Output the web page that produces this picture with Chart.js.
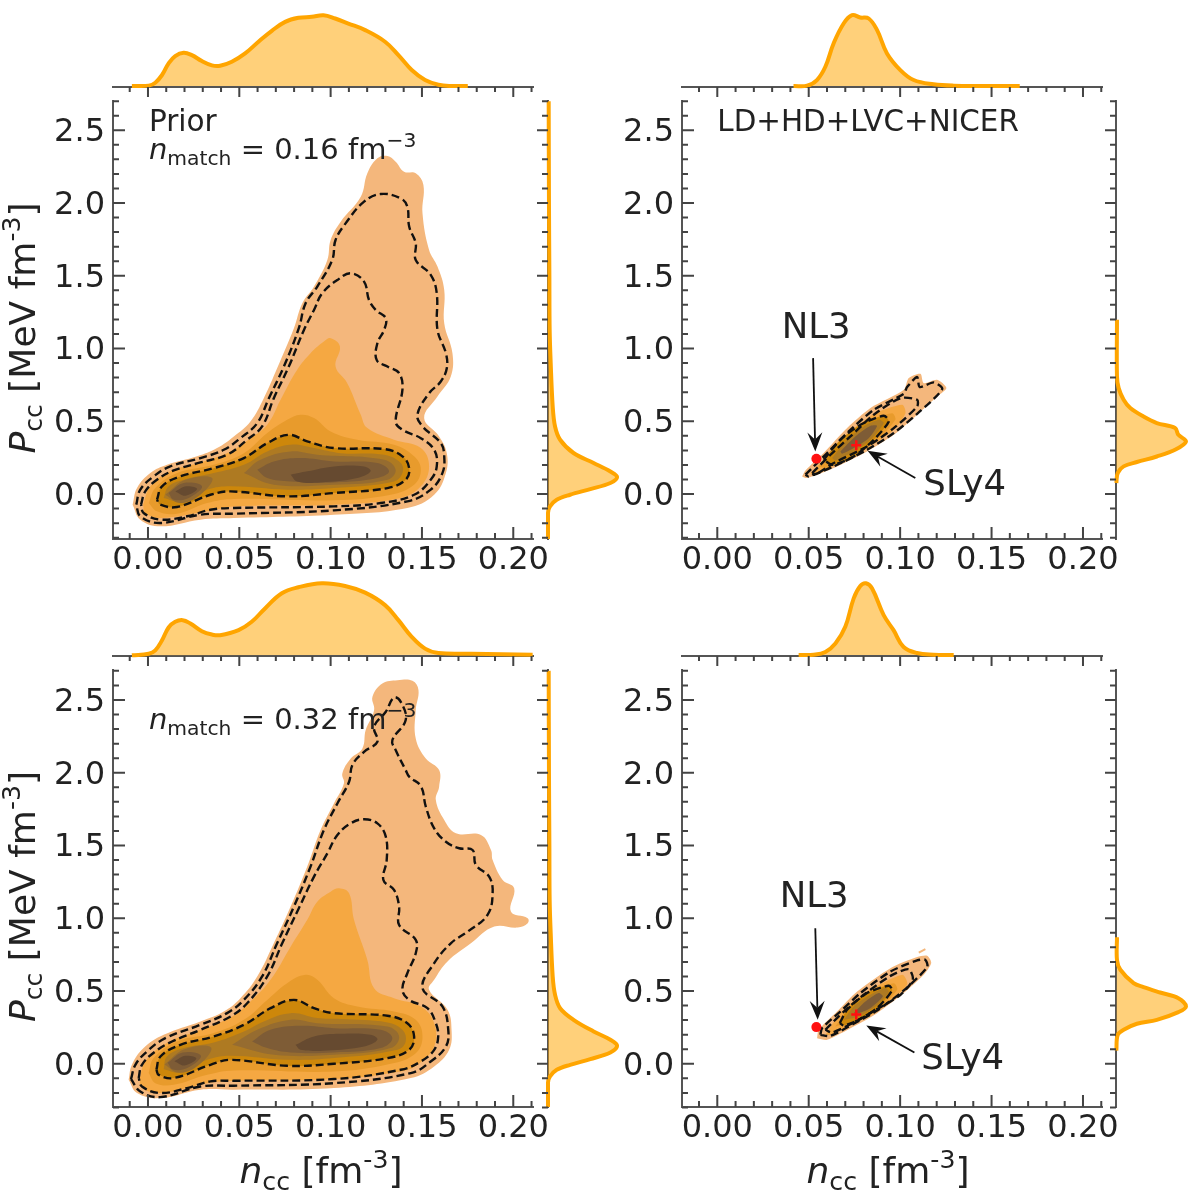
<!DOCTYPE html>
<html><head><meta charset="utf-8">
<style>
html,body{margin:0;padding:0;background:#fff}
#page{position:relative;width:1200px;height:1200px;overflow:hidden;background:#fff}
canvas{position:absolute;display:block}
</style>
<script src="https://cdn.jsdelivr.net/npm/chart.js@4"></script>
</head><body><div id="page"></div>
<script>
// ---------- tick values ----------
const xMajor=[0,0.05,0.10,0.15,0.20];
const xMinor=[-0.01,0.01,0.02,0.03,0.04,0.06,0.07,0.08,0.09,0.11,0.12,0.13,0.14,0.16,0.17,0.18,0.19,0.21];
const yMajor=[0,0.5,1.0,1.5,2.0,2.5];
const yMinor=[-0.3,-0.2,-0.1,0.1,0.2,0.3,0.4,0.6,0.7,0.8,0.9,1.1,1.2,1.3,1.4,1.6,1.7,1.8,1.9,2.1,2.2,2.3,2.4,2.6,2.7];
const levelColors=['#F4B77C','#F5A842','#E89B2C','#CD870A','#AE7A22','#966C30','#7E5C36','#664A30'];

// ---------- Prior, n_match = 0.16 : contours [n_cc, P_cc] ----------
const A_L0=[[-0.0084,-0.073],[-0.0060,0.041],[0.0013,0.144],[0.0104,0.201],[0.0269,0.259],[0.0378,0.316],[0.0470,0.396],[0.0561,0.499],[0.0634,0.659],[0.0707,0.865],[0.0799,1.140],[0.0845,1.311],[0.0909,1.426],[0.0982,1.609],[0.1000,1.746],[0.1055,1.872],[0.1165,2.043],[0.1201,2.204],[0.1256,2.307],[0.1311,2.323],[0.1356,2.284],[0.1402,2.215],[0.1466,2.204],[0.1508,2.124],[0.1503,1.929],[0.1539,1.677],[0.1585,1.563],[0.1622,1.403],[0.1622,1.174],[0.1667,0.968],[0.1658,0.808],[0.1585,0.670],[0.1512,0.522],[0.1594,0.396],[0.1636,0.281],[0.1631,0.144],[0.1567,-0.005],[0.1420,-0.096],[0.1018,-0.142],[0.0470,-0.165],[0.0287,-0.176],[0.0068,-0.222],[-0.0042,-0.176]];
const A_D1=[[-0.0064,-0.073],[-0.0042,0.030],[0.0031,0.121],[0.0122,0.190],[0.0287,0.247],[0.0415,0.304],[0.0506,0.384],[0.0598,0.487],[0.0662,0.659],[0.0744,0.876],[0.0826,1.140],[0.0863,1.311],[0.0927,1.426],[0.1009,1.609],[0.1027,1.746],[0.1082,1.860],[0.1183,2.009],[0.1274,2.062],[0.1384,2.032],[0.1420,1.975],[0.1430,1.838],[0.1466,1.723],[0.1466,1.609],[0.1548,1.506],[0.1581,1.380],[0.1585,1.128],[0.1631,0.968],[0.1636,0.865],[0.1603,0.773],[0.1539,0.693],[0.1475,0.545],[0.1503,0.465],[0.1603,0.350],[0.1622,0.259],[0.1612,0.144],[0.1548,0.030],[0.1420,-0.050],[0.1018,-0.112],[0.0470,-0.135],[0.0287,-0.142],[0.0068,-0.199],[-0.0042,-0.153]];
const A_D2=[[-0.0038,-0.073],[-0.0015,0.018],[0.0049,0.098],[0.0141,0.162],[0.0287,0.217],[0.0433,0.270],[0.0543,0.373],[0.0625,0.465],[0.0689,0.659],[0.0771,0.876],[0.0854,1.128],[0.0909,1.265],[0.0954,1.380],[0.1037,1.471],[0.1110,1.517],[0.1183,1.460],[0.1210,1.334],[0.1247,1.265],[0.1302,1.208],[0.1293,1.128],[0.1256,1.037],[0.1252,0.922],[0.1311,0.876],[0.1375,0.831],[0.1393,0.716],[0.1356,0.499],[0.1393,0.442],[0.1494,0.384],[0.1567,0.304],[0.1581,0.190],[0.1548,0.098],[0.1457,-0.005],[0.1274,-0.062],[0.1018,-0.085],[0.0470,-0.096],[0.0342,-0.108],[0.0214,-0.153],[0.0068,-0.176],[-0.0024,-0.130]];
const A_D3=[[0.0049,-0.039],[0.0077,0.053],[0.0177,0.121],[0.0360,0.178],[0.0525,0.247],[0.0653,0.350],[0.0771,0.407],[0.0872,0.362],[0.1018,0.316],[0.1293,0.309],[0.1393,0.259],[0.1430,0.178],[0.1411,0.098],[0.1311,0.041],[0.1018,0.007],[0.0762,-0.016],[0.0452,0.018],[0.0342,-0.005],[0.0159,-0.089],[0.0068,-0.073]];
const A_L1=[[-0.0027,-0.073],[0.0013,0.053],[0.0122,0.156],[0.0287,0.217],[0.0452,0.293],[0.0561,0.384],[0.0653,0.476],[0.0726,0.648],[0.0817,0.854],[0.0890,0.968],[0.0963,1.048],[0.1000,1.071],[0.1051,1.014],[0.1027,0.876],[0.1091,0.762],[0.1165,0.545],[0.1201,0.453],[0.1347,0.373],[0.1494,0.316],[0.1539,0.190],[0.1494,0.053],[0.1384,-0.027],[0.1018,-0.073],[0.0470,-0.085],[0.0324,-0.119],[0.0068,-0.165],[-0.0015,-0.130]];
const A_L2=[[0.0004,-0.062],[0.0040,0.041],[0.0159,0.144],[0.0360,0.201],[0.0525,0.281],[0.0653,0.419],[0.0762,0.510],[0.0835,0.545],[0.0909,0.522],[0.1000,0.430],[0.1146,0.373],[0.1347,0.339],[0.1457,0.259],[0.1494,0.167],[0.1457,0.064],[0.1329,-0.005],[0.1018,-0.043],[0.0470,-0.034],[0.0324,-0.062],[0.0159,-0.135],[0.0049,-0.119]];
const A_L4=[[0.0086,-0.027],[0.0113,0.053],[0.0196,0.098],[0.0360,0.144],[0.0525,0.201],[0.0653,0.293],[0.0781,0.339],[0.0909,0.316],[0.1055,0.281],[0.1293,0.270],[0.1384,0.213],[0.1393,0.144],[0.1347,0.087],[0.1018,0.041],[0.0762,0.030],[0.0452,0.053],[0.0324,0.030],[0.0177,-0.050]];
const A_L5a=[[0.0525,0.144],[0.0616,0.236],[0.0781,0.293],[0.0927,0.270],[0.1293,0.236],[0.1356,0.167],[0.1311,0.098],[0.1018,0.064],[0.0689,0.064]];
const A_L5b=[[0.0095,-0.005],[0.0205,0.098],[0.0351,0.110],[0.0287,-0.005],[0.0177,-0.062]];
const A_L6a=[[0.0598,0.167],[0.0689,0.224],[0.0835,0.247],[0.1018,0.224],[0.1256,0.213],[0.1320,0.156],[0.1256,0.110],[0.1018,0.080],[0.0781,0.087],[0.0653,0.110]];
const A_L6b=[[0.0113,0.007],[0.0196,0.076],[0.0296,0.053],[0.0223,-0.027],[0.0141,-0.039]];
const A_L7a=[[0.0781,0.133],[0.0872,0.156],[0.1018,0.190],[0.1183,0.190],[0.1219,0.156],[0.1146,0.110],[0.0945,0.080],[0.0817,0.087]];
const A_L7b=[[0.0150,0.018],[0.0210,0.053],[0.0269,0.034],[0.0205,-0.011]];

// ---------- Prior, n_match = 0.32 ----------
const C_L0=[[-0.0106,-0.110],[-0.0088,-0.007],[-0.0024,0.108],[0.0086,0.199],[0.0287,0.291],[0.0415,0.359],[0.0506,0.451],[0.0598,0.600],[0.0689,0.828],[0.0781,1.080],[0.0872,1.355],[0.0945,1.606],[0.1018,1.789],[0.1073,1.927],[0.1064,1.995],[0.1110,2.098],[0.1174,2.167],[0.1192,2.293],[0.1238,2.430],[0.1229,2.522],[0.1283,2.613],[0.1366,2.636],[0.1448,2.632],[0.1481,2.568],[0.1466,2.430],[0.1466,2.236],[0.1521,2.098],[0.1594,2.018],[0.1594,1.904],[0.1576,1.812],[0.1622,1.675],[0.1686,1.584],[0.1823,1.572],[0.1878,1.469],[0.1887,1.400],[0.1942,1.263],[0.2005,1.206],[0.1987,1.046],[0.2079,1.000],[0.2079,0.966],[0.2024,0.936],[0.1896,0.943],[0.1768,0.828],[0.1640,0.703],[0.1567,0.577],[0.1539,0.508],[0.1640,0.371],[0.1662,0.233],[0.1649,0.096],[0.1567,-0.018],[0.1439,-0.098],[0.1018,-0.167],[0.0470,-0.178],[0.0287,-0.178],[0.0068,-0.236],[-0.0060,-0.201]];
const C_D1=[[-0.0093,-0.105],[-0.0069,-0.007],[-0.0005,0.085],[0.0095,0.176],[0.0287,0.268],[0.0433,0.348],[0.0525,0.439],[0.0625,0.600],[0.0707,0.828],[0.0799,1.080],[0.0890,1.355],[0.0963,1.606],[0.1037,1.789],[0.1101,1.938],[0.1119,2.053],[0.1183,2.144],[0.1256,2.213],[0.1238,2.316],[0.1302,2.419],[0.1347,2.517],[0.1384,2.487],[0.1411,2.362],[0.1338,2.224],[0.1356,2.156],[0.1411,2.018],[0.1430,1.973],[0.1494,1.908],[0.1521,1.767],[0.1567,1.618],[0.1631,1.526],[0.1704,1.481],[0.1777,1.469],[0.1795,1.366],[0.1868,1.286],[0.1887,1.172],[0.1859,1.023],[0.1750,0.908],[0.1658,0.828],[0.1567,0.691],[0.1503,0.519],[0.1612,0.394],[0.1644,0.233],[0.1631,0.119],[0.1548,0.016],[0.1439,-0.064],[0.1018,-0.133],[0.0470,-0.151],[0.0287,-0.156],[0.0068,-0.229],[-0.0042,-0.190]];
const C_D2=[[-0.0051,-0.098],[-0.0033,-0.007],[0.0040,0.085],[0.0132,0.153],[0.0287,0.233],[0.0452,0.325],[0.0543,0.416],[0.0653,0.600],[0.0735,0.828],[0.0826,1.069],[0.0909,1.286],[0.0982,1.446],[0.1037,1.572],[0.1110,1.652],[0.1183,1.680],[0.1256,1.652],[0.1302,1.561],[0.1307,1.400],[0.1289,1.263],[0.1347,1.195],[0.1375,1.080],[0.1375,0.954],[0.1466,0.851],[0.1466,0.760],[0.1420,0.622],[0.1393,0.508],[0.1430,0.439],[0.1530,0.382],[0.1576,0.279],[0.1589,0.188],[0.1567,0.096],[0.1494,0.016],[0.1384,-0.041],[0.1018,-0.105],[0.0470,-0.117],[0.0342,-0.121],[0.0214,-0.167],[0.0068,-0.201],[-0.0033,-0.156]];
const C_D3=[[0.0046,-0.041],[0.0068,0.050],[0.0177,0.130],[0.0360,0.188],[0.0525,0.268],[0.0671,0.382],[0.0799,0.439],[0.0909,0.382],[0.1018,0.348],[0.1311,0.330],[0.1420,0.279],[0.1457,0.188],[0.1430,0.096],[0.1311,0.039],[0.1018,0.000],[0.0762,-0.014],[0.0452,0.027],[0.0342,-0.007],[0.0141,-0.098],[0.0059,-0.076]];
const C_L1=[[-0.0046,-0.105],[-0.0015,0.016],[0.0104,0.142],[0.0287,0.233],[0.0461,0.325],[0.0561,0.428],[0.0671,0.577],[0.0781,0.805],[0.0872,0.989],[0.0927,1.114],[0.1000,1.183],[0.1046,1.206],[0.1101,1.172],[0.1128,0.989],[0.1201,0.714],[0.1238,0.519],[0.1347,0.451],[0.1494,0.394],[0.1567,0.279],[0.1567,0.119],[0.1475,-0.007],[0.1384,-0.053],[0.1018,-0.105],[0.0470,-0.117],[0.0324,-0.133],[0.0068,-0.201],[-0.0033,-0.167]];
const C_L2=[[0.0004,-0.064],[0.0031,0.039],[0.0159,0.153],[0.0360,0.211],[0.0525,0.302],[0.0653,0.439],[0.0762,0.554],[0.0863,0.611],[0.0927,0.577],[0.1018,0.451],[0.1146,0.394],[0.1347,0.359],[0.1466,0.302],[0.1503,0.188],[0.1466,0.073],[0.1329,0.000],[0.1018,-0.053],[0.0470,-0.046],[0.0324,-0.076],[0.0141,-0.144],[0.0040,-0.133]];
const C_L4=[[0.0086,-0.037],[0.0104,0.050],[0.0196,0.108],[0.0360,0.146],[0.0525,0.222],[0.0634,0.291],[0.0781,0.348],[0.0927,0.314],[0.1055,0.307],[0.1311,0.284],[0.1393,0.233],[0.1411,0.153],[0.1366,0.096],[0.1018,0.039],[0.0762,0.027],[0.0452,0.055],[0.0324,0.027],[0.0177,-0.059]];
const C_L5a=[[0.0461,0.130],[0.0598,0.233],[0.0781,0.302],[0.0927,0.279],[0.1311,0.256],[0.1375,0.188],[0.1329,0.108],[0.1018,0.062],[0.0689,0.062]];
const C_L5b=[[0.0090,-0.005],[0.0200,0.100],[0.0345,0.112],[0.0282,-0.005],[0.0172,-0.062]];
const C_L6a=[[0.0570,0.153],[0.0671,0.233],[0.0835,0.261],[0.1018,0.245],[0.1274,0.233],[0.1338,0.176],[0.1274,0.108],[0.1018,0.078],[0.0781,0.078],[0.0653,0.108]];
const C_L6b=[[0.0108,0.007],[0.0190,0.078],[0.0290,0.055],[0.0218,-0.027],[0.0136,-0.039]];
const C_L7a=[[0.0808,0.130],[0.0909,0.188],[0.1055,0.206],[0.1219,0.199],[0.1256,0.165],[0.1183,0.119],[0.0982,0.092],[0.0835,0.096]];
const C_L7b=[[0.0145,0.018],[0.0205,0.055],[0.0265,0.036],[0.0200,-0.011]];

// ---------- LD+HD+LVC+NICER, n_match = 0.16 ----------
const B_L0=[[0.0464,0.121],[0.0482,0.162],[0.0582,0.282],[0.0710,0.453],[0.0838,0.591],[0.1020,0.716],[0.1047,0.797],[0.1111,0.826],[0.1129,0.762],[0.1202,0.785],[0.1253,0.728],[0.1202,0.670],[0.1093,0.545],[0.0965,0.407],[0.0819,0.293],[0.0637,0.179],[0.0491,0.110]];
const B_D1=[[0.0482,0.133],[0.0601,0.282],[0.0719,0.430],[0.0856,0.579],[0.1020,0.689],[0.1038,0.735],[0.1093,0.804],[0.1107,0.735],[0.1184,0.767],[0.1230,0.721],[0.1093,0.551],[0.0965,0.419],[0.0819,0.304],[0.0637,0.190],[0.0500,0.121]];
const B_D2=[[0.0519,0.144],[0.0619,0.270],[0.0728,0.396],[0.0856,0.545],[0.1002,0.659],[0.1093,0.648],[0.1093,0.602],[0.0965,0.453],[0.0819,0.327],[0.0637,0.213],[0.0537,0.133]];
const B_D3=[[0.0582,0.236],[0.0673,0.373],[0.0783,0.476],[0.0910,0.538],[0.0938,0.499],[0.0856,0.373],[0.0746,0.258],[0.0628,0.201]];
const B_L1=[[0.0509,0.144],[0.0609,0.270],[0.0719,0.407],[0.0847,0.545],[0.1011,0.613],[0.1029,0.556],[0.0965,0.442],[0.0819,0.316],[0.0637,0.196],[0.0527,0.126]];
const B_L2=[[0.0555,0.190],[0.0673,0.361],[0.0783,0.483],[0.0956,0.556],[0.0974,0.510],[0.0865,0.361],[0.0746,0.254],[0.0601,0.179]];
const B_L4=[[0.0628,0.247],[0.0710,0.373],[0.0801,0.464],[0.0883,0.510],[0.0910,0.488],[0.0838,0.373],[0.0746,0.293],[0.0646,0.231]];
const B_L6=[[0.0673,0.293],[0.0755,0.396],[0.0838,0.469],[0.0874,0.469],[0.0828,0.384],[0.0746,0.316],[0.0683,0.277]];

// ---------- LD+HD+LVC+NICER, n_match = 0.32 ----------
const D_L0=[[0.0546,0.176],[0.0555,0.234],[0.0655,0.359],[0.0765,0.497],[0.0947,0.657],[0.1093,0.733],[0.1148,0.742],[0.1170,0.692],[0.1129,0.611],[0.1020,0.486],[0.0874,0.348],[0.0746,0.256],[0.0601,0.165]];
const D_Speck=[[0.1102,0.764],[0.1138,0.788]];
const D_D1=[[0.0564,0.199],[0.0573,0.245],[0.0673,0.359],[0.0783,0.486],[0.0947,0.634],[0.1093,0.710],[0.1138,0.714],[0.1148,0.664],[0.1020,0.504],[0.0874,0.366],[0.0746,0.275],[0.0619,0.192]];
const D_D2=[[0.0591,0.234],[0.0692,0.359],[0.0801,0.474],[0.0947,0.604],[0.1047,0.650],[0.1069,0.577],[0.1002,0.474],[0.0874,0.376],[0.0746,0.284],[0.0628,0.215]];
const D_D3=[[0.0670,0.280],[0.0710,0.371],[0.0819,0.486],[0.0938,0.536],[0.0956,0.504],[0.0874,0.383],[0.0774,0.302],[0.0692,0.263]];
const D_L1=[[0.0591,0.199],[0.0673,0.348],[0.0801,0.481],[0.1011,0.611],[0.1038,0.543],[0.0874,0.359],[0.0746,0.275],[0.0619,0.199]];
const D_L2=[[0.0646,0.256],[0.0719,0.383],[0.0819,0.486],[0.0965,0.554],[0.0984,0.508],[0.0874,0.371],[0.0765,0.297]];
const D_L4=[[0.0692,0.302],[0.0755,0.405],[0.0847,0.481],[0.0920,0.520],[0.0938,0.492],[0.0865,0.394],[0.0774,0.325]];
const D_L6=[[0.0746,0.348],[0.0810,0.428],[0.0883,0.486],[0.0905,0.462],[0.0838,0.383],[0.0774,0.348]];

// ---------- marginals: top [n_cc, density], right [density, P_cc] ----------
const A_top=[[-0.0088,0.014],[0.0004,0.019],[0.0040,0.060],[0.0077,0.167],[0.0113,0.329],[0.0149,0.431],[0.0195,0.477],[0.0240,0.444],[0.0295,0.361],[0.0350,0.301],[0.0395,0.296],[0.0459,0.352],[0.0532,0.468],[0.0605,0.630],[0.0678,0.782],[0.0751,0.907],[0.0824,0.963],[0.0897,0.977],[0.0961,1.000],[0.1025,0.954],[0.1097,0.884],[0.1189,0.792],[0.1298,0.630],[0.1371,0.444],[0.1444,0.236],[0.1517,0.097],[0.1590,0.032],[0.1663,0.014],[0.1751,0.014]];
const B_top=[[0.0417,0.014],[0.0491,0.019],[0.0545,0.097],[0.0591,0.282],[0.0636,0.606],[0.0691,0.884],[0.0737,1.0],[0.0782,0.968],[0.0828,0.954],[0.0874,0.792],[0.0928,0.468],[0.1001,0.236],[0.1074,0.097],[0.1183,0.037],[0.1293,0.019],[0.1654,0.014]];
const C_top=[[-0.0088,0.009],[0.0004,0.032],[0.0040,0.078],[0.0077,0.217],[0.0113,0.392],[0.0149,0.470],[0.0190,0.493],[0.0232,0.447],[0.0295,0.341],[0.0350,0.295],[0.0395,0.286],[0.0496,0.355],[0.0568,0.470],[0.0641,0.654],[0.0733,0.862],[0.0824,0.945],[0.0952,1.0],[0.1079,0.963],[0.1189,0.871],[0.1298,0.700],[0.1371,0.493],[0.1444,0.263],[0.1517,0.101],[0.1590,0.041],[0.1772,0.032],[0.2106,0.018]];
const D_top=[[0.0445,0.014],[0.0527,0.018],[0.0591,0.055],[0.0646,0.171],[0.0700,0.401],[0.0746,0.793],[0.0782,0.963],[0.0813,1.0],[0.0846,0.931],[0.0910,0.562],[0.0964,0.355],[0.1019,0.124],[0.1092,0.041],[0.1183,0.018],[0.1293,0.014]];
const A_right=[[0,-0.309],[0,-0.129],[0.029,-0.085],[0.126,-0.039],[0.32,-0.005],[0.612,0.034],[0.903,0.076],[1.0,0.117],[0.903,0.155],[0.66,0.213],[0.369,0.282],[0.175,0.373],[0.102,0.464],[0.068,0.602],[0.039,0.900],[0.024,1.128],[0.02,1.5],[0.014,2.0],[0.01,2.7]];
const B_right=[[0.005,0.076],[0.024,0.144],[0.109,0.190],[0.299,0.220],[0.583,0.258],[0.844,0.304],[1.0,0.361],[0.891,0.407],[0.844,0.453],[0.583,0.488],[0.393,0.533],[0.204,0.591],[0.109,0.648],[0.038,0.728],[0.014,0.808],[0.014,1.197]];
const C_right=[[0,-0.297],[0,-0.129],[0.029,-0.087],[0.126,-0.041],[0.32,-0.007],[0.612,0.032],[0.903,0.078],[1.0,0.124],[0.903,0.165],[0.66,0.222],[0.369,0.302],[0.175,0.382],[0.102,0.474],[0.068,0.600],[0.039,0.898],[0.024,1.126],[0.02,1.5],[0.014,2.0],[0.01,2.7]];
const D_right=[[0.005,0.091],[0.024,0.199],[0.109,0.234],[0.299,0.275],[0.583,0.302],[0.891,0.355],[1.0,0.394],[0.891,0.451],[0.630,0.490],[0.393,0.527],[0.251,0.554],[0.062,0.646],[0.014,0.714],[0.014,0.870]];

// ---------- reference models ----------
const B_NL3=[0.0542,0.242], B_SLy4=[0.0760,0.336];
const D_NL3=[0.0542,0.252], D_SLy4=[0.0760,0.339];
const B_notes=[{label:'NL3',at:[0.0541,1.071],from:[0.0524,0.934],to:[0.0536,0.293],align:'center'},{label:'SLy4',at:[0.1127,-0.005],from:[0.1083,0.110],to:[0.0822,0.297],align:'left'}];
const D_notes=[{label:'NL3',at:[0.0530,1.076],from:[0.0536,0.932],to:[0.0549,0.302],align:'center'},{label:'SLy4',at:[0.1116,-0.037],from:[0.1078,0.078],to:[0.0815,0.263],align:'left'}];

const FONT='"DejaVu Sans"';
const INK='#222222', AXIS='#555555', TICK='#444444', LINE='#FFA500';

function drawRuns(ctx,runs,x,y,size,align){
  const font=r=>(r.s==='i'?'italic ':'')+((r.k==='sub'||r.k==='sup')?size*0.7:size)+'px '+FONT;
  let w=0; runs.forEach(r=>{ctx.font=font(r);w+=ctx.measureText(r.t).width;});
  let cx=align==='center'?x-w/2:x;
  ctx.textAlign='left';ctx.textBaseline='alphabetic';ctx.fillStyle=INK;
  runs.forEach(r=>{ctx.font=font(r);
    const dy=r.k==='sub'?size*0.2:r.k==='sup'?-size*0.42:0;
    ctx.fillText(r.t,cx,y+dy);cx+=ctx.measureText(r.t).width;});
}
function tickMarks(ctx,scale,vals,len,side){
  vals.forEach(v=>{
    const p=scale.getPixelForValue(v);
    if(side==='x'){ctx.moveTo(p,scale.chart.chartArea.bottom);ctx.lineTo(p,scale.chart.chartArea.bottom+len);}
    else{ctx.moveTo(scale.chart.chartArea.left,p);ctx.lineTo(scale.chart.chartArea.left+len,p);}
  });
}
const ticksPlugin={id:'axisMarks',afterDatasetsDraw(chart,a,o){
  const ctx=chart.ctx;ctx.save();ctx.strokeStyle=TICK;ctx.lineWidth=2;ctx.beginPath();
  if(o.xLen){tickMarks(ctx,chart.scales.x,xMajor,o.xLen[0],'x');tickMarks(ctx,chart.scales.x,xMinor,o.xLen[1],'x');}
  if(o.yLen){tickMarks(ctx,chart.scales.y,yMajor,o.yLen[0],'y');tickMarks(ctx,chart.scales.y,yMinor,o.yLen[1],'y');}
  ctx.stroke();ctx.restore();
}};
function arrow(ctx,x0,y0,x1,y1){
  const a=Math.atan2(y1-y0,x1-x0),L=19,W=7.5,N=12;
  const c=Math.cos(a),s=Math.sin(a);
  ctx.strokeStyle='#111';ctx.lineWidth=1.8;ctx.beginPath();ctx.moveTo(x0,y0);ctx.lineTo(x1-c*N,y1-s*N);ctx.stroke();
  ctx.fillStyle='#111';ctx.beginPath();ctx.moveTo(x1,y1);
  ctx.lineTo(x1-c*L-s*W,y1-s*L+c*W);ctx.lineTo(x1-c*N,y1-s*N);ctx.lineTo(x1-c*L+s*W,y1-s*L-c*W);ctx.closePath();ctx.fill();
}
const O_Y_TITLE=78;
const textPlugin={id:'panelText',afterDatasetsDraw(chart,a,o){
  const ctx=chart.ctx,X=chart.scales.x,Y=chart.scales.y,ca=chart.chartArea;ctx.save();
  (o.notes||[]).forEach(n=>drawRuns(ctx,n.runs,X.getPixelForValue(n.at[0]),Y.getPixelForValue(n.at[1]),n.size,'left'));
  (o.arrows||[]).forEach(n=>{
    arrow(ctx,X.getPixelForValue(n.from[0]),Y.getPixelForValue(n.from[1]),X.getPixelForValue(n.to[0]),Y.getPixelForValue(n.to[1]));
    drawRuns(ctx,[{t:n.label}],X.getPixelForValue(n.at[0]),Y.getPixelForValue(n.at[1]),35.5,n.align);
  });
  if(o.xTitle) drawRuns(ctx,xTitleRuns,(ca.left+ca.right)/2+o.xTitleShift,ca.bottom+76,36,'center');
  if(o.yTitle){ctx.translate(ca.left-O_Y_TITLE,(ca.top+ca.bottom)/2+o.yTitleShift);ctx.rotate(-Math.PI/2);drawRuns(ctx,yTitleRuns,0,0,36,'center');}
  ctx.restore();
}};
const xTitleRuns=[{t:'n',s:'i'},{t:'cc',k:'sub'},{t:' [fm'},{t:'-3',k:'sup'},{t:']'}];
const yTitleRuns=[{t:'P',s:'i'},{t:'cc',k:'sub'},{t:' [MeV fm'},{t:'-3',k:'sup'},{t:']'}];
const matchRuns=v=>[{t:'n',s:'i'},{t:'match',k:'sub'},{t:' = '},{t:v+' fm'},{t:'\u22123',k:'sup'}];

const pageEl=document.getElementById('page');
function mk(left,tp,w,h,cfg){
  const c=document.createElement('canvas');c.width=w;c.height=h;c.style.left=left+'px';c.style.top=tp+'px';c.style.width=w+'px';c.style.height=h+'px';
  pageEl.appendChild(c);
  cfg.options=Object.assign({responsive:false,animation:false,events:[],devicePixelRatio:1},cfg.options);
  return new Chart(c.getContext('2d'),cfg);
}
const pts=a=>a.map(d=>({x:d[0],y:d[1]}));
const closed=a=>pts(a.concat([a[0]]));
function setOrder(ds){ds.forEach((d,i)=>{d.order=ds.length-i;});return ds;}
const fillDs=(a,lvl,t)=>({data:closed(a),showLine:true,fill:'shape',backgroundColor:levelColors[lvl],borderWidth:0,pointRadius:0,tension:t});
const dashDs=(a,t)=>({data:closed(a),showLine:true,fill:false,borderColor:'#111',borderWidth:2.4,borderDash:[8,4],pointRadius:0,tension:t});
function fixFit(s,size){
  s.paddingLeft=0;s.paddingRight=0;s.paddingTop=0;s.paddingBottom=0;
  if(s.isHorizontal()) s.height=size; else s.width=size;
}

function mainPanel(box,xr,yr,datasets,pl){
  const padL=130,padR=60,padT=8,padB=100,axisW=110,axisH=70;
  const w=Math.round(box.r-box.l)+padL+padR,h=Math.round(box.b-box.t)+padT+padB;
  mk(box.l-padL,box.t-padT,w,h,{type:'scatter',data:{datasets:setOrder(datasets)},
    options:{layout:{autoPadding:false,padding:{left:padL-axisW,right:padR,top:padT,bottom:padB-axisH}},
    scales:{
      x:{type:'linear',min:xr[0],max:xr[1],afterFit(s){fixFit(s,axisH);},afterBuildTicks(s){s.ticks=xMajor.map(v=>({value:v}));},
        grid:{drawOnChartArea:false,drawTicks:false},border:{display:true,color:AXIS,width:2},
        ticks:{autoSkip:false,maxRotation:0,padding:2,color:INK,font:{family:FONT,size:32},callback:v=>v.toFixed(2)}},
      y:{type:'linear',min:yr[0],max:yr[1],afterFit(s){fixFit(s,axisW);},afterBuildTicks(s){s.ticks=yMajor.map(v=>({value:v}));},
        grid:{drawOnChartArea:false,drawTicks:false},border:{display:true,color:AXIS,width:2},
        ticks:{autoSkip:false,padding:8,labelOffset:2.5,color:INK,font:{family:FONT,size:32},callback:v=>v.toFixed(1)}}
    },
    plugins:{legend:{display:false},tooltip:{enabled:false},axisMarks:{xLen:[-12,-6],yLen:[12,6]},panelText:pl}},
    plugins:[ticksPlugin,textPlugin]});
}
function topMarginal(box,base,ptop,xr,data){
  const h=base-ptop+14,w=Math.round(box.r-box.l)+10;
  mk(box.l-5,ptop,w,h,{type:'scatter',data:{datasets:[{data:pts(data),showLine:true,fill:'shape',backgroundColor:'rgba(255,165,0,0.52)',borderColor:LINE,borderWidth:4,pointRadius:0,tension:0.4,clip:false}]},
    options:{layout:{autoPadding:false,padding:{left:5,right:5,top:0,bottom:14}},
    scales:{x:{type:'linear',min:xr[0],max:xr[1],afterFit(s){fixFit(s,0);},grid:{drawOnChartArea:false,drawTicks:false},border:{display:true,color:AXIS,width:2},ticks:{display:false}},
            y:{display:false,min:0,max:1.1}},
    plugins:{legend:{display:false},tooltip:{enabled:false},axisMarks:{xLen:[10,5]}}},plugins:[ticksPlugin]});
}
function rightMarginal(box,base,wid,yr,data){
  const w=wid+16,h=Math.round(box.b-box.t)+8;
  mk(base-14,box.t-4,w,h,{type:'scatter',data:{datasets:[{data:pts(data),showLine:true,fill:'shape',backgroundColor:'rgba(255,165,0,0.52)',borderColor:LINE,borderWidth:4,pointRadius:0,tension:0.35,clip:false}]},
    options:{layout:{autoPadding:false,padding:{left:14,right:2,top:4,bottom:4}},
    scales:{y:{type:'linear',min:yr[0],max:yr[1],afterFit(s){fixFit(s,0);},grid:{drawOnChartArea:false,drawTicks:false},border:{display:true,color:AXIS,width:2},ticks:{display:false}},
            x:{display:false,min:0,max:1.1}},
    plugins:{legend:{display:false},tooltip:{enabled:false},axisMarks:{yLen:[-11,-6]}}},plugins:[ticksPlugin]});
}
const marker=(p,style,r,bw)=>({data:[{x:p[0],y:p[1]}],pointStyle:style,pointRadius:r,backgroundColor:'#FF1010',borderColor:'#FF1010',borderWidth:bw,showLine:false});

const T=0.4,TR=0.25;
const xL=[-0.01915,0.2108], xR=[-0.0193,0.2104];
const yTop=[-0.309,2.701], yBot=[-0.297,2.706];
const boxA={l:113,r:533,t:101,b:539}, boxB={l:682,r:1102,t:101,b:539}, boxC={l:113,r:533,t:670,b:1107}, boxD={l:682,r:1102,t:670,b:1107};

mainPanel(boxA,xL,yTop,[fillDs(A_L0,0,T),fillDs(A_L1,1,T),fillDs(A_L2,2,T),fillDs(A_D3,3,T),fillDs(A_L4,4,T),fillDs(A_L5a,5,T),fillDs(A_L5b,5,T),fillDs(A_L6a,6,T),fillDs(A_L6b,6,T),fillDs(A_L7a,7,T),fillDs(A_L7b,7,T),dashDs(A_D1,T),dashDs(A_D2,T),dashDs(A_D3,T)],
  {notes:[{runs:[{t:'Prior'}],at:[0.0005,2.495],size:29.5},{runs:matchRuns('0.16'),at:[0.0005,2.303],size:29}],yTitle:true,yTitleShift:8});
mainPanel(boxB,xR,yTop,[fillDs(B_L0,0,TR),fillDs(B_L1,1,TR),fillDs(B_L2,2,TR),fillDs(B_D3,3,TR),fillDs(B_L4,4,TR),fillDs(B_L6,6,TR),dashDs(B_D1,TR),dashDs(B_D2,TR),dashDs(B_D3,TR),marker(B_NL3,'circle',5,0),marker(B_SLy4,'cross',5,2.5)],
  {notes:[{runs:[{t:'LD+HD+LVC+NICER'}],at:[0.0,2.495],size:29.4}],arrows:B_notes});
mainPanel(boxC,xL,yBot,[fillDs(C_L0,0,T),fillDs(C_L1,1,T),fillDs(C_L2,2,T),fillDs(C_D3,3,T),fillDs(C_L4,4,T),fillDs(C_L5a,5,T),fillDs(C_L5b,5,T),fillDs(C_L6a,6,T),fillDs(C_L6b,6,T),fillDs(C_L7a,7,T),fillDs(C_L7b,7,T),dashDs(C_D1,T),dashDs(C_D2,T),dashDs(C_D3,T)],
  {notes:[{runs:matchRuns('0.32'),at:[0.0005,2.299],size:29}],yTitle:true,yTitleShift:8,xTitle:true,xTitleShift:-2});
mainPanel(boxD,xR,yBot,[fillDs(D_L0,0,TR),{data:pts(D_Speck),showLine:true,borderColor:levelColors[0],borderWidth:2,pointRadius:0},fillDs(D_L1,1,TR),fillDs(D_L2,2,TR),fillDs(D_D3,3,TR),fillDs(D_L4,4,TR),fillDs(D_L6,6,TR),dashDs(D_D1,TR),dashDs(D_D2,TR),dashDs(D_D3,TR),marker(D_NL3,'circle',5,0),marker(D_SLy4,'cross',5,2.5)],
  {notes:[],arrows:D_notes,xTitle:true,xTitleShift:-4});

topMarginal(boxA,87,8,xL,A_top);
topMarginal(boxB,87,8,xR,B_top);
topMarginal(boxC,656,576,xL,C_top);
topMarginal(boxD,656,576,xR,D_top);
rightMarginal(boxA,548,76,yTop,A_right);
rightMarginal(boxB,1116,77,yTop,B_right);
rightMarginal(boxC,548,76,yBot,C_right);
rightMarginal(boxD,1116,77,yBot,D_right);
</script></body></html>
